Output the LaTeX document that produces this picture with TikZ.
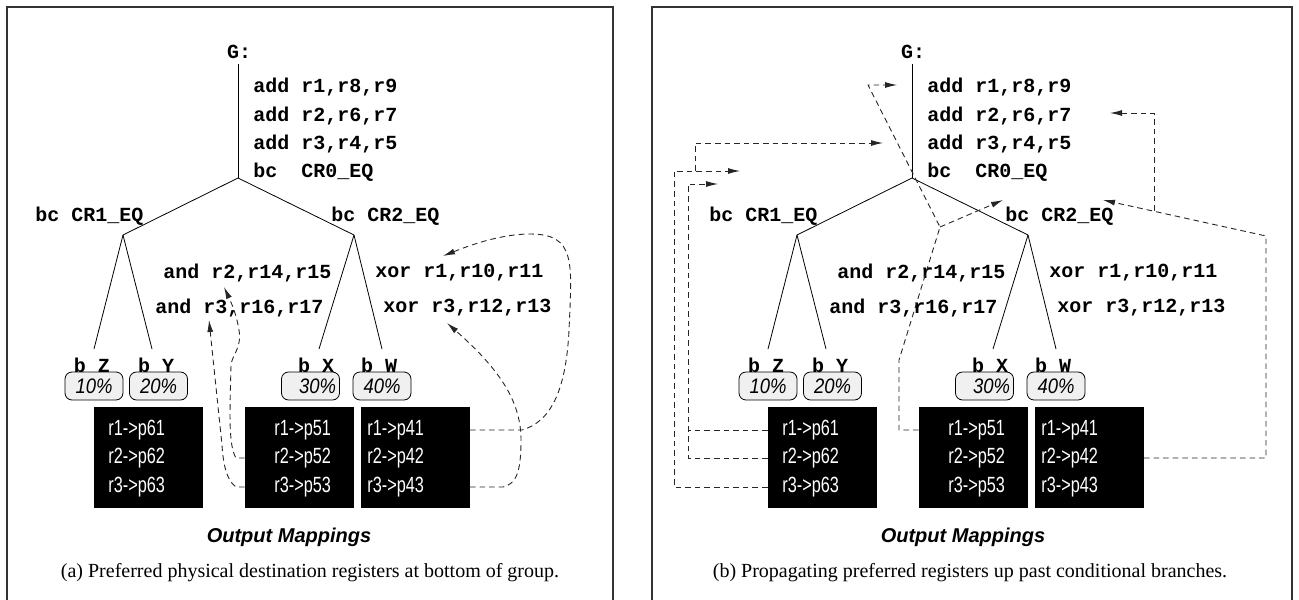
\documentclass[tikz,border=0pt]{standalone}
\usepackage{fontspec}
\setmainfont{Liberation Serif}
\setsansfont{Liberation Sans}
\setmonofont{Liberation Mono}
\newfontfamily\mapfont[FakeStretch=0.74]{Liberation Sans}
\newfontfamily\pctfont[FakeStretch=0.88]{Liberation Sans}
\usepackage{tikz}
\usetikzlibrary{arrows.meta}
\tikzset{code node/.style={font=\ttfamily\bfseries, inner sep=0pt, anchor=west}}
\tikzset{tree edge/.style={draw=black, line width=0.4pt}}
\tikzset{pct box/.style={rectangle, rounded corners=3.5pt, draw=black, fill=black!6,
    line width=0.4pt, minimum width=29pt, minimum height=14pt, inner sep=0pt,
    font=\pctfont\itshape\fontsize{10.5}{11}\selectfont}}
\tikzset{map box/.style={rectangle, fill=black, minimum width=54.5pt, minimum height=50.5pt, inner sep=0pt}}
\tikzset{map text/.style={text=white, inner sep=0pt, anchor=west, font=\mapfont\fontsize{11}{12}\selectfont}}
\tikzset{pref line/.style={draw=black!85, dash pattern=on 2.8pt off 2pt, line width=0.45pt}}
\tikzset{pref edge/.style={pref line, -{Latex[length=6pt,width=3pt]}}}
\tikzset{panel frame/.style={draw=black!80, line width=0.6pt}}
% one group: code tree, branch weights and output mappings (#1 = suffix of the names)
\newcommand{\grouptree}[1]{%
  \node [code node, anchor=center] (g#1)    at (239, 52) {G:};
  \coordinate (top#1)   at (238, 64);
  \coordinate (root#1)  at (238,178);
  \coordinate (left#1)  at (123,235);
  \coordinate (right#1) at (354,235);
  \coordinate (leafz#1) at ( 94,349);
  \coordinate (leafy#1) at (152,349);
  \coordinate (leafx#1) at (319,349);
  \coordinate (leafw#1) at (382,349);
  \node [code node] (add1#1) at (253, 87) {add r1,r8,r9};
  \node [code node] (add2#1) at (253,116) {add r2,r6,r7};
  \node [code node] (add3#1) at (253,144) {add r3,r4,r5};
  \node [code node] (bc0#1)  at (253,172) {bc\ \ CR0\_EQ};
  \node [code node] (bc1#1)  at ( 35,216) {bc CR1\_EQ};
  \node [code node] (bc2#1)  at (331,216) {bc CR2\_EQ};
  \node [code node] (and1#1) at (163,273) {and r2,r14,r15};
  \node [code node] (and2#1) at (155,308) {and r3,r16,r17};
  \node [code node] (xor1#1) at (375,273) {xor r1,r10,r11};
  \node [code node] (xor2#1) at (383,308) {xor r3,r12,r13};
  \draw [tree edge] (top#1) -- (root#1);
  \draw [tree edge] (root#1) -- (left#1);
  \draw [tree edge] (root#1) -- (right#1);
  \draw [tree edge] (left#1) -- (leafz#1);
  \draw [tree edge] (left#1) -- (leafy#1);
  \draw [tree edge] (right#1) -- (leafx#1);
  \draw [tree edge] (right#1) -- (leafw#1);
  \node [code node, anchor=base] (bz#1) at ( 92,372) {b Z};
  \node [code node, anchor=base] (by#1) at (156,372) {b Y};
  \node [code node, anchor=base] (bx#1) at (316,372) {b X};
  \node [code node, anchor=base] (bw#1) at (379,372) {b W};
  \node [pct box] (p10#1) at ( 94.0,386) {10\%};
  \node [pct box] (p20#1) at (158.5,386) {20\%};
  \node [pct box] (p30#1) at (310.5,386) {\hspace*{7pt}30\%};
  \node [pct box] (p40#1) at (382.0,386) {40\%};
  \node [map box] (m6#1) at (148.5,457.5) {};
  \node [map box] (m5#1) at (299.5,457.5) {};
  \node [map box] (m4#1) at (415.0,457.5) {};
  \node [map text] (r61#1) at (108,430) {r1->p61};
  \node [map text] (r62#1) at (108,458) {r2->p62};
  \node [map text] (r63#1) at (108,487) {r3->p63};
  \node [map text] (r51#1) at (274,430) {r1->p51};
  \node [map text] (r52#1) at (274,458) {r2->p52};
  \node [map text] (r53#1) at (274,487) {r3->p53};
  \node [map text] (r41#1) at (367,430) {r1->p41};
  \node [map text] (r42#1) at (367,458) {r2->p42};
  \node [map text] (r43#1) at (367,487) {r3->p43};
  \node [font=\sffamily\bfseries\itshape] (out#1) at (289,537) {Output Mappings};
}

\begin{document}
\begin{tikzpicture}[x=0.5pt, y=-0.5pt]
  \useasboundingbox (0,0) rectangle (1299,599);
  \draw [panel frame] (  7,620) -- (  7,7) -- ( 613,7) -- ( 613,620);
  \draw [panel frame] (652,620) -- (652,7) -- (1292,7) -- (1292,620);

  % (a)
  \begin{scope}
    \grouptree{a}
  \end{scope}
  \coordinate (tipxor1) at (443,256);
  \coordinate (tipxor3) at (447,323);
  \coordinate (tipand2) at (224,287);
  \coordinate (tipand3) at (209,320);
  \draw [pref edge] (m4a.east |- r41a) -- (522,430)
    .. controls (550,422) and (566,392) .. (569,330)
    .. controls (572,262) and (576,234) .. (530,234)
    .. controls (500,234) and (468,246) .. (tipxor1);
  \draw [pref edge] (m4a.east |- r43a) -- (503,487)
    .. controls (517,484) and (521,470) .. (521,440)
    .. controls (521,400) and (498,368) .. (tipxor3);
  \draw [pref edge] (m5a.west |- r52a) -- (236,458)
    .. controls (228,445) and (230,410) .. (231,365)
    .. controls (232,355) and (242,348) .. (239,330)
    .. controls (236,312) and (230,300) .. (tipand2);
  \draw [pref edge] (m5a.west |- r53a) -- (236,487)
    .. controls (226,480) and (223,462) .. (222,445) -- (tipand3);
  \node (capa) at (310,573) {(a) Preferred physical destination registers at bottom of group.};

  % (b)
  \begin{scope}[shift={(674,0)}]
    \grouptree{b}
  \end{scope}
  \coordinate (bend6)  at ( 688,184);
  \coordinate (tip6)   at ( 718,184);
  \coordinate (bend63) at ( 674,171);
  \coordinate (split3) at ( 695,171);
  \coordinate (tip63)  at ( 740,171);
  \coordinate (tipadd) at ( 883,143);
  \coordinate (bend5)  at ( 899,360);
  \coordinate (fork5)  at ( 940,227);
  \coordinate (bendg)  at ( 868, 85);
  \coordinate (tipg)   at ( 897, 85);
  \coordinate (tipbc2) at (1003,200);
  \coordinate (bend4)  at (1266,236);
  \coordinate (fork4)  at (1154,211);
  \coordinate (tip4)   at (1103,200);
  \coordinate (tipadd2) at (1110,113);
  \draw [pref line] (m6b.west |- r61b) -- (bend6 |- r61b);
  \draw [pref edge] (m6b.west |- r62b) -| (bend6) -- (tip6);
  \draw [pref edge] (m6b.west |- r63b) -| (bend63) -- (tip63);
  \draw [pref edge] (split3) -- (split3 |- tipadd) -- (tipadd);
  \draw [pref edge] (m5b.west |- r51b) -| (bend5) -- (fork5) -- (bendg) -- (tipg);
  \draw [pref edge] (fork5) -- (tipbc2);
  \draw [pref edge] (m4b.east |- r42b) -| (bend4) -- (tip4);
  \draw [pref edge] (fork4) -- (fork4 |- tipadd2) -- (tipadd2);
  \node (capb) at (970,573) {(b) Propagating preferred registers up past conditional branches.};
\end{tikzpicture}
\end{document}
